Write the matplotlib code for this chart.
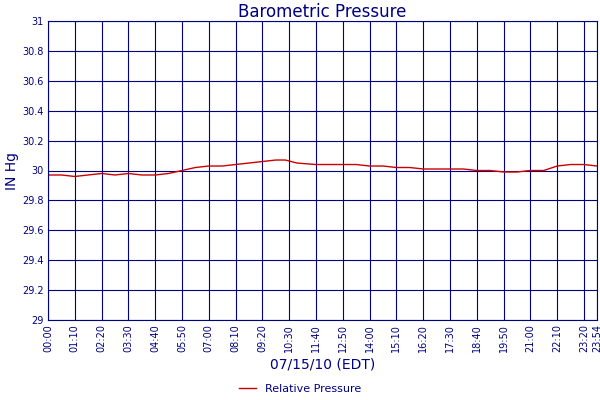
import matplotlib.pyplot as plt

# minutes since midnight and pressure readings (in Hg)
minutes = [0, 35, 70, 105, 140, 175, 210, 245, 280, 315, 350, 385, 420, 455, 490,
           525, 560, 595, 620, 650, 700, 735, 770, 805, 840, 875, 910, 945, 980,
           1015, 1050, 1085, 1120, 1155, 1190, 1225, 1260, 1295, 1330, 1365, 1400, 1434]
pressure = [29.97, 29.97, 29.96, 29.97, 29.98, 29.97, 29.98, 29.97, 29.97, 29.98,
            30.00, 30.02, 30.03, 30.03, 30.04, 30.05, 30.06, 30.07, 30.07, 30.05,
            30.04, 30.04, 30.04, 30.04, 30.03, 30.03, 30.02, 30.02, 30.01, 30.01,
            30.01, 30.01, 30.00, 30.00, 29.99, 29.99, 30.00, 30.00, 30.03, 30.04,
            30.04, 30.03]

tick_pos = list(range(0, 1401, 70)) + [1434]
tick_labels = ["%02d:%02d" % (m // 60, m % 60) for m in tick_pos]
y_ticks = [29, 29.2, 29.4, 29.6, 29.8, 30, 30.2, 30.4, 30.6, 30.8, 31]
y_labels = ["29", "29.2", "29.4", "29.6", "29.8", "30", "30.2", "30.4", "30.6", "30.8", "31"]

navy = "#000080"
fig = plt.figure(figsize=(6, 4), dpi=100)
ax = fig.add_axes([0.08, 0.2, 0.915, 0.7475])
ax.plot(minutes, pressure, color="#cc0000", lw=1, label="Relative Pressure")
ax.set_xlim(0, 1434)
ax.set_ylim(29, 31)
ax.set_xticks(tick_pos)
ax.set_xticklabels(tick_labels, rotation=90, fontsize=7, color=navy)
ax.set_yticks(y_ticks)
ax.set_yticklabels(y_labels, fontsize=7, color=navy)
ax.grid(True, color=navy, lw=0.8)
ax.tick_params(length=0, pad=3)
for s in ax.spines.values():
    s.set_color(navy)
ax.set_title("Barometric Pressure", color=navy, fontsize=12, pad=3)
ax.set_ylabel("IN Hg", color=navy, fontsize=10, labelpad=2)
ax.set_xlabel("07/15/10 (EDT)", color=navy, fontsize=10, labelpad=4)
fig.legend(loc="lower center", bbox_to_anchor=(0.5, -0.01), frameon=False,
           fontsize=8, labelcolor=navy, handlelength=1.5)
fig.savefig("out.png")
